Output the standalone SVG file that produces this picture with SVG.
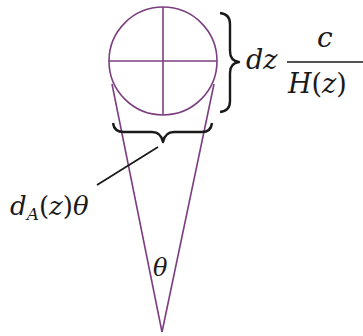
<svg xmlns="http://www.w3.org/2000/svg" width="363" height="336" viewBox="0 0 363 336">
<style>
.p{fill:none;stroke:#7b3f80;stroke-width:1.6}
.b{fill:none;stroke:#1a1a1a;stroke-width:2.4;stroke-linejoin:round}
text{font-family:"DejaVu Serif",serif;fill:#1a1a1a}
</style>
<rect width="363" height="336" fill="#fff"/>
<g id="sphere">
<circle class="p" cx="163" cy="61" r="54"/>
<line class="p" x1="109" y1="61" x2="217" y2="61"/>
<line class="p" x1="163" y1="7" x2="163" y2="115"/>
</g>
<g id="cone">
<line class="p" x1="112" y1="84" x2="162" y2="332"/>
<line class="p" x1="214" y1="84" x2="162" y2="332"/>
</g>
<g id="brace-bottom">
<path class="b" d="M113,123 Q114,132 124,132 L152,132 Q161,132 163,142 Q165,132 174,132 L202,132 Q211,132 212,123"/>
</g>
<g id="brace-right">
<path class="b" d="M220,13 Q230,14 230,24 L230,51 Q230,61 239,62 Q230,63 230,73 L230,101 Q230,111 220,112"/>
</g>
<g id="connectors">
<line x1="97" y1="185" x2="158" y2="147" stroke="#1a1a1a" stroke-width="1.8"/>
</g>
<g id="label-dz">
<text x="246" y="69" font-size="27" font-style="italic">dz</text>
<line x1="287" y1="62" x2="363" y2="62" stroke="#1a1a1a" stroke-width="1.6"/>
<text x="317" y="47" font-size="28" font-style="italic">c</text>
<text x="288" y="93" font-size="27"><tspan font-style="italic">H</tspan><tspan>(</tspan><tspan font-style="italic">z</tspan><tspan>)</tspan></text>
</g>
<g id="label-da">
<text x="10" y="215" font-size="26"><tspan font-style="italic">d</tspan><tspan font-style="italic" font-size="17" dy="5">A</tspan><tspan dy="-5">(</tspan><tspan font-style="italic">z</tspan><tspan>)</tspan><tspan font-style="italic">θ</tspan></text>
</g>
<g id="label-theta">
<text x="153" y="276" font-size="24" font-style="italic">θ</text>
</g>
</svg>
